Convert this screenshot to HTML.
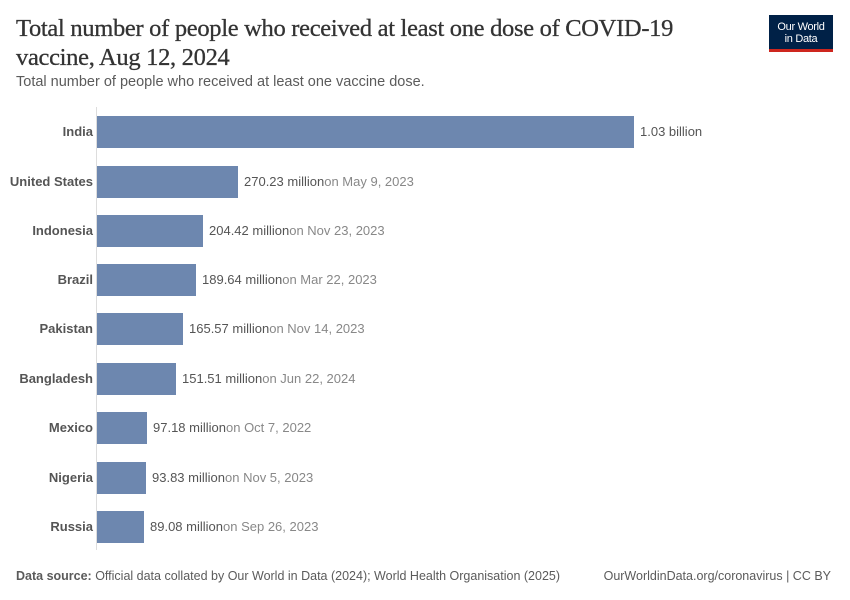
<!DOCTYPE html>
<html><head><meta charset="utf-8"><style>
body{margin:0;width:850px;height:600px;background:#fff;position:relative;font-family:"Liberation Sans",sans-serif;overflow:hidden}
.t{position:absolute;left:16px;top:14px;font-family:"Liberation Serif",serif;font-size:24.5px;line-height:29px;color:#333;width:720px;letter-spacing:-0.3px;-webkit-text-stroke:0.3px #333}
.s{position:absolute;left:16px;top:74px;font-size:14.5px;color:#5b5b5b}
.logo{position:absolute;left:769px;top:15px;width:64px;height:37px;background:#002147;border-bottom:3px solid #ce261e;box-sizing:border-box;color:#fff;font-size:11px;line-height:12px;text-align:center;padding-top:6px;letter-spacing:-0.3px}
.ax{position:absolute;left:96px;top:107px;width:1px;height:443px;background:#ddd}
.bar{position:absolute;left:97px;height:32px;background:#6d87af}
.lab{position:absolute;right:757px;font-size:13px;font-weight:bold;color:#555;text-align:right;white-space:nowrap}
.val{position:absolute;font-size:13px;color:#555;white-space:nowrap}
.val span{color:#888}
.f{position:absolute;top:569px;font-size:12.5px;color:#5b5b5b}
</style></head><body>
<div class="t">Total number of people who received at least one dose of COVID-19 vaccine, Aug 12, 2024</div>
<div class="s">Total number of people who received at least one vaccine dose.</div>
<div class="logo">Our World<br>in Data</div>
<div class="ax"></div>

<div class="bar" style="top:116px;width:537px"></div><div class="lab" style="top:124px">India</div><div class="val" style="left:640px;top:124px">1.03 billion</div>
<div class="bar" style="top:166px;width:141px"></div><div class="lab" style="top:174px">United States</div><div class="val" style="left:244px;top:174px">270.23 million<span>on May 9, 2023</span></div>
<div class="bar" style="top:215px;width:106px"></div><div class="lab" style="top:223px">Indonesia</div><div class="val" style="left:209px;top:223px">204.42 million<span>on Nov 23, 2023</span></div>
<div class="bar" style="top:264px;width:99px"></div><div class="lab" style="top:272px">Brazil</div><div class="val" style="left:202px;top:272px">189.64 million<span>on Mar 22, 2023</span></div>
<div class="bar" style="top:313px;width:86px"></div><div class="lab" style="top:321px">Pakistan</div><div class="val" style="left:189px;top:321px">165.57 million<span>on Nov 14, 2023</span></div>
<div class="bar" style="top:363px;width:79px"></div><div class="lab" style="top:371px">Bangladesh</div><div class="val" style="left:182px;top:371px">151.51 million<span>on Jun 22, 2024</span></div>
<div class="bar" style="top:412px;width:50px"></div><div class="lab" style="top:420px">Mexico</div><div class="val" style="left:153px;top:420px">97.18 million<span>on Oct 7, 2022</span></div>
<div class="bar" style="top:462px;width:49px"></div><div class="lab" style="top:470px">Nigeria</div><div class="val" style="left:152px;top:470px">93.83 million<span>on Nov 5, 2023</span></div>
<div class="bar" style="top:511px;width:47px"></div><div class="lab" style="top:519px">Russia</div><div class="val" style="left:150px;top:519px">89.08 million<span>on Sep 26, 2023</span></div>

<div class="f" style="left:16px"><b>Data source:</b> Official data collated by Our World in Data (2024); World Health Organisation (2025)</div>
<div class="f" style="right:19px">OurWorldinData.org/coronavirus | CC BY</div>
</body></html>
